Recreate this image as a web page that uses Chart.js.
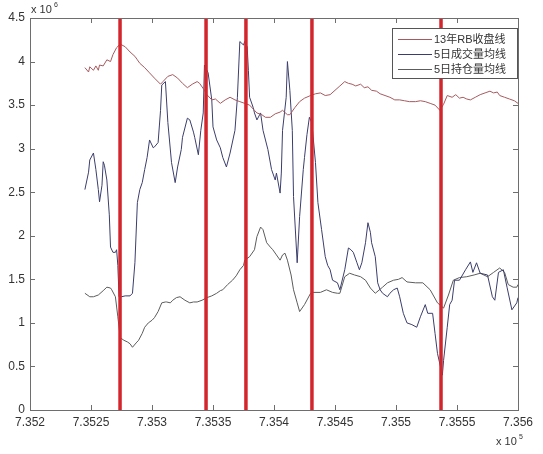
<!DOCTYPE html>
<html>
<head>
<meta charset="utf-8">
<script src="https://cdn.jsdelivr.net/npm/chart.js@4/dist/chart.umd.min.js"></script>
<style>
  html, body { margin: 0; padding: 0; background: #fff; }
  canvas { display: block; }
</style>
</head>
<body>
<canvas id="rbChart" width="543" height="454"></canvas>
<script>
// x = MATLAB datenum (axis shown x 10^5), y = value in units of 10^6
const closeDays = [735245,735248,735249,735252,735254,735256,735257,735260,735263,735266,735268,735271,735274,735278,735282,735286,735288,735290,735294,735298,735302,735307,735309,735313,735317,735321,735325,735329,735333,735337,735339,735343,735345,735349,735352,735356,735360,735364,735368,735372,735376,735380,735384,735386,735390,735393,735397,735401,735405,735407,735411,735413,735417,735421,735425,735430,735434,735438,735442,735446,735450,735454,735458,735461,735464,735467,735471,735474,735477,735480,735484,735487,735491,735495,735499,735503,735507,735511,735516,735520,735524,735528,735532,735536,735539,735542,735546,735549,735552,735555,735558,735561,735565,735569,735573,735577,735580,735583,735585,735589,735593,735597,735600];
const closeVals = [3.93,3.88,3.94,3.90,3.95,3.90,3.96,3.95,4.02,4.00,4.08,4.16,4.20,4.17,4.11,4.06,4.02,3.98,3.93,3.87,3.81,3.74,3.77,3.83,3.85,3.81,3.75,3.70,3.74,3.77,3.75,3.67,3.62,3.56,3.57,3.52,3.56,3.59,3.56,3.54,3.52,3.50,3.44,3.41,3.39,3.36,3.36,3.40,3.42,3.44,3.39,3.39,3.47,3.54,3.58,3.61,3.63,3.64,3.61,3.62,3.67,3.72,3.77,3.75,3.74,3.72,3.74,3.70,3.71,3.67,3.66,3.63,3.61,3.59,3.56,3.56,3.55,3.54,3.54,3.55,3.54,3.52,3.50,3.44,3.51,3.61,3.59,3.62,3.58,3.59,3.57,3.56,3.59,3.62,3.64,3.66,3.64,3.65,3.61,3.59,3.57,3.55,3.52];

const volDays = [735245,735248,735249,735252,735254,735256,735257,735259,735260,735261,735263,735265,735266,735268,735270,735271,735272,735273,735275,735278,735282,735284,735286,735288,735290,735292,735294,735296,735298,735301,735302,735305,735307,735308,735311,735313,735316,735319,735321,735324,735325,735329,735331,735334,735335,735338,735340,735342,735343,735346,735349,735350,735353,735356,735358,735361,735364,735368,735370,735372,735375,735376,735378,735379,735380,735383,735384,735386,735389,735391,735395,735398,735401,735402,735405,735406,735407,735410,735411,735413,735415,735416,735419,735421,735424,735425,735427,735429,735431,735434,735436,735439,735442,735444,735446,735448,735452,735454,735458,735461,735463,735465,735468,735470,735472,735475,735477,735479,735480,735483,735485,735487,735489,735493,735495,735498,735501,735503,735506,735509,735513,735517,735520,735524,735526,735530,735532,735534,735538,735539,735542,735544,735546,735548,735552,735557,735561,735563,735566,735569,735575,735579,735581,735584,735588,735591,735595,735599,735600];
const volVals = [2.53,2.73,2.87,2.95,2.76,2.53,2.39,2.58,2.85,2.81,2.64,2.24,1.87,1.81,1.81,1.84,1.66,1.30,1.30,1.31,1.31,1.34,1.69,2.38,2.53,2.61,2.76,2.90,3.10,3.01,3.02,3.07,3.44,3.73,3.77,3.30,2.84,2.61,2.79,2.99,3.13,3.35,3.33,3.19,3.13,2.93,3.21,3.41,3.96,3.87,3.56,3.25,3.10,3.01,2.90,2.79,2.95,3.21,3.59,4.23,4.19,4.23,4.17,3.90,3.59,3.47,3.41,3.33,3.41,3.21,2.99,2.76,2.64,2.72,2.49,2.72,3.21,3.59,4.00,3.67,3.21,2.45,1.69,2.22,2.76,2.90,3.16,3.36,3.30,2.84,2.38,2.07,1.76,1.66,1.61,1.49,1.46,1.38,1.61,1.86,1.84,1.81,1.69,1.61,1.69,1.92,2.15,2.04,1.92,1.76,1.46,1.38,1.34,1.30,1.34,1.38,1.40,1.30,1.11,1.00,0.98,0.95,1.07,1.21,1.11,1.11,0.88,0.65,0.40,0.57,0.95,1.21,1.26,1.49,1.49,1.61,1.70,1.58,1.69,1.57,1.55,1.30,1.26,1.58,1.61,1.41,1.15,1.23,1.29];

const oiDays = [735245,735249,735252,735256,735260,735263,735266,735267,735270,735272,735274,735277,735280,735282,735284,735287,735289,735292,735294,735297,735300,735302,735305,735308,735311,735312,735315,735317,735320,735323,735327,735331,735334,735337,735341,735345,735349,735353,735356,735358,735362,735366,735369,735372,735375,735376,735380,735384,735386,735389,735391,735394,735397,735399,735402,735405,735407,735409,735411,735414,735416,735419,735421,735425,735430,735432,735438,735443,735448,735452,735454,735458,735462,735466,735471,735475,735479,735483,735489,735493,735498,735502,735505,735509,735516,735522,735528,735534,735539,735543,735547,735552,735558,735564,735569,735575,735580,735585,735589,735592,735596,735599,735600];
const oiVals = [1.34,1.30,1.30,1.32,1.37,1.41,1.40,1.38,1.30,1.07,0.83,0.80,0.78,0.76,0.72,0.77,0.80,0.88,0.95,1.00,1.03,1.06,1.13,1.23,1.24,1.24,1.23,1.26,1.29,1.30,1.26,1.23,1.24,1.24,1.26,1.29,1.31,1.34,1.37,1.38,1.44,1.49,1.54,1.61,1.66,1.72,1.76,1.84,1.99,2.10,2.07,1.92,1.87,1.84,1.78,1.72,1.78,1.80,1.72,1.55,1.38,1.23,1.13,1.21,1.34,1.35,1.35,1.38,1.35,1.34,1.34,1.53,1.57,1.55,1.53,1.49,1.40,1.34,1.41,1.46,1.49,1.50,1.52,1.47,1.46,1.46,1.38,1.23,1.17,1.32,1.49,1.52,1.53,1.55,1.57,1.53,1.58,1.63,1.58,1.44,1.41,1.41,1.44];

const markerDays = [735273.8, 735344.3, 735377.0, 735431.1, 735536.9];

const seriesNames = ['13年RB收盘线', '5日成交量均线', '5日持仓量均线'];
const seriesColors = ['#a65a5e', '#3b3e6c', '#5c5c5c'];

const xTicks = [735200,735250,735300,735350,735400,735450,735500,735550,735600];
const yTicks = [0,0.5,1,1.5,2,2.5,3,3.5,4,4.5];

const FONT = '"Liberation Sans", Arial, "Noto Sans CJK SC", sans-serif';

function pairs(xs, ys) { return xs.map((x, i) => ({ x, y: ys[i] })); }

const datasets = [
  { label: seriesNames[0], data: pairs(closeDays, closeVals), borderColor: seriesColors[0], borderWidth: 1 },
  { label: seriesNames[1], data: pairs(volDays, volVals), borderColor: seriesColors[1], borderWidth: 1 },
  { label: seriesNames[2], data: pairs(oiDays, oiVals), borderColor: seriesColors[2], borderWidth: 1 }
];
markerDays.forEach(d => {
  datasets.push({
    label: 'marker',
    data: [{ x: d, y: 0 }, { x: d, y: 4.5 }],
    borderColor: '#d3262c',
    borderWidth: 3.5,
    order: -1
  });
});

// frame, inward ticks, exponents and boxed legend, MATLAB style
const matlabDecor = {
  id: 'matlabDecor',
  afterDraw(chart) {
    const { ctx, chartArea: a, scales: { x, y } } = chart;
    ctx.save();
    ctx.strokeStyle = '#6e6e6e';
    ctx.lineWidth = 1;
    ctx.strokeRect(Math.round(a.left) + 0.5, Math.round(a.top) + 0.5,
      Math.round(a.right - a.left), Math.round(a.bottom - a.top));
    ctx.beginPath();
    xTicks.forEach(v => {
      const px = Math.round(x.getPixelForValue(v)) + 0.5;
      ctx.moveTo(px, a.bottom); ctx.lineTo(px, a.bottom - 5);
      ctx.moveTo(px, a.top); ctx.lineTo(px, a.top + 5);
    });
    yTicks.forEach(v => {
      const py = Math.round(y.getPixelForValue(v)) + 0.5;
      ctx.moveTo(a.left, py); ctx.lineTo(a.left + 5, py);
      ctx.moveTo(a.right, py); ctx.lineTo(a.right - 5, py);
    });
    ctx.stroke();

    // exponent labels
    ctx.fillStyle = '#333';
    ctx.textBaseline = 'alphabetic';
    ctx.textAlign = 'left';
    ctx.font = '11px ' + FONT;
    ctx.fillText('x 10', a.left + 1, a.top - 5);
    ctx.font = '7px ' + FONT;
    ctx.fillText('6', a.left + 24, a.top - 11);
    ctx.font = '11px ' + FONT;
    ctx.fillText('x 10', a.right - 22, a.bottom + 35);
    ctx.font = '7px ' + FONT;
    ctx.fillText('5', a.right + 1, a.bottom + 29);

    // legend box
    const bx = a.right - 126, by = a.top + 10, bw = 125, bh = 50;
    ctx.fillStyle = '#fff';
    ctx.fillRect(bx, by, bw, bh);
    ctx.strokeStyle = '#555';
    ctx.strokeRect(bx + 0.5, by + 0.5, bw, bh);
    ctx.font = '11px ' + FONT;
    ctx.textBaseline = 'middle';
    seriesNames.forEach((name, i) => {
      const ly = by + 11 + i * 15;
      ctx.strokeStyle = seriesColors[i];
      ctx.beginPath();
      ctx.moveTo(bx + 6, ly + 0.5);
      ctx.lineTo(bx + 40, ly + 0.5);
      ctx.stroke();
      ctx.fillStyle = '#333';
      ctx.fillText(name, bx + 42, ly + 1);
    });
    ctx.restore();
  }
};

new Chart(document.getElementById('rbChart').getContext('2d'), {
  type: 'line',
  data: { datasets },
  options: {
    responsive: false,
    animation: false,
    parsing: true,
    layout: { padding: { top: 18, right: 25, left: 0, bottom: 0 } },
    elements: { point: { radius: 0 }, line: { tension: 0 } },
    plugins: {
      legend: { display: false },
      tooltip: { enabled: false }
    },
    scales: {
      x: {
        type: 'linear',
        min: 735200,
        max: 735600,
        afterBuildTicks: s => { s.ticks = xTicks.map(v => ({ value: v })); },
        afterFit: s => { s.height = 44; },
        grid: { display: false, drawTicks: false, tickLength: 0 },
        border: { display: false },
        ticks: {
          padding: 5,
          maxRotation: 0,
          autoSkip: false,
          color: '#333',
          font: { family: FONT, size: 12 },
          callback: v => String(parseFloat((v / 1e5).toFixed(5)))
        }
      },
      y: {
        type: 'linear',
        min: 0,
        max: 4.5,
        afterBuildTicks: s => { s.ticks = yTicks.map(v => ({ value: v })); },
        afterFit: s => { s.width = 30; },
        grid: { display: false, drawTicks: false, tickLength: 0 },
        border: { display: false },
        ticks: {
          padding: 5,
          color: '#333',
          font: { family: FONT, size: 12 },
          callback: v => String(v)
        }
      }
    }
  },
  plugins: [matlabDecor]
});
</script>
</body>
</html>
